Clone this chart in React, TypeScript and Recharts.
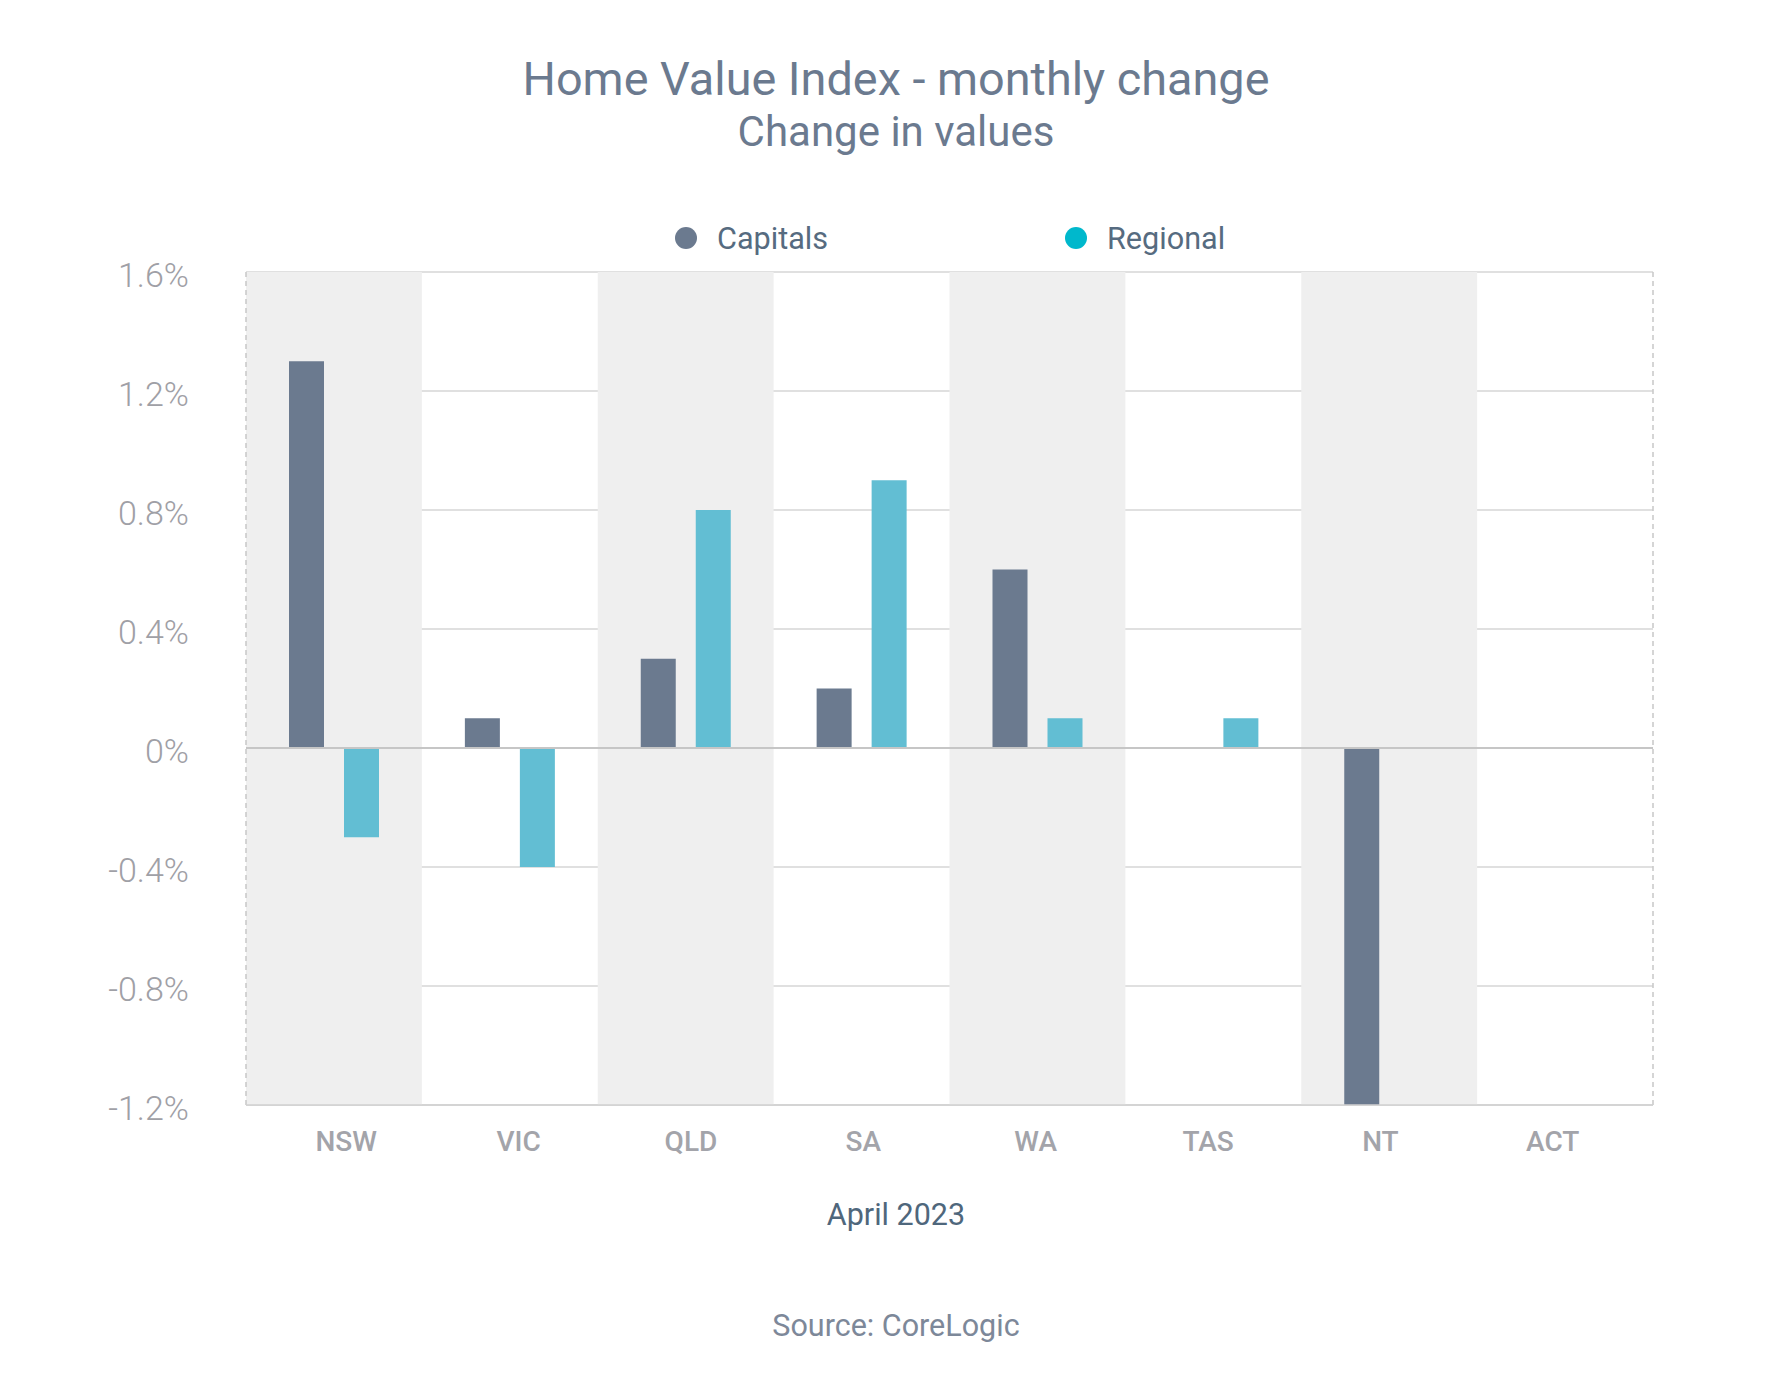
import React from 'react';
import {
  BarChart,
  Bar,
  XAxis,
  YAxis,
  CartesianGrid,
  ReferenceArea,
  ReferenceLine,
} from 'recharts';

const categories = ['NSW', 'VIC', 'QLD', 'SA', 'WA', 'TAS', 'NT', 'ACT'];
const capitals = [1.3, 0.1, 0.3, 0.2, 0.6, 0, -1.2, 0];
const regional: (number | null)[] = [-0.3, -0.4, 0.8, 0.9, 0.1, 0.1, null, null];
const yTicks = [-1.2, -0.8, -0.4, 0, 0.4, 0.8, 1.2, 1.6];
const shadedCategories = categories.filter((_, i) => i % 2 === 0);

const title = 'Home Value Index - monthly change';
const subtitle = 'Change in values';
const xAxisTitle = 'April 2023';
const sourceText = 'Source: CoreLogic';

const CAP_COLOR = '#6b7a8f';
const REG_COLOR = '#62bed3';
const legendItems = [
  { label: 'Capitals', color: '#6b7a8f' },
  { label: 'Regional', color: '#00b8cc' },
];

const data = categories.map((c, i) => ({
  state: c,
  capitals: capitals[i],
  regional: regional[i],
}));

const FONT = 'Roboto, "Noto Sans", sans-serif';
const PLOT_CENTER = 949.5;

const YTick = (props: any) => {
  const { y, payload } = props;
  return (
    <text
      x={189}
      y={y + 15}
      textAnchor="end"
      fontFamily={FONT}
      fontSize={34}
      fontWeight={300}
      fill="#9fa0a6"
    >
      {`${payload.value}%`}
    </text>
  );
};

const XTick = (props: any) => {
  const { x, payload } = props;
  const lx = PLOT_CENTER + (x - PLOT_CENTER) * 0.98;
  return (
    <text
      x={lx}
      y={1151}
      textAnchor="middle"
      fontFamily={FONT}
      fontSize={28}
      fontWeight={500}
      fill="#a3a4aa"
    >
      {payload.value}
    </text>
  );
};

export default function App() {
  return (
    <div
      style={{
        position: 'absolute',
        left: 0,
        top: 0,
        width: 1782,
        height: 1396,
        background: '#ffffff',
        overflow: 'hidden',
      }}
    >
      <BarChart
        width={1782}
        height={1396}
        data={data}
        margin={{ top: 272, right: 129, bottom: 0, left: 0 }}
        barGap={20}
      >
        {shadedCategories.map((c) => (
          <ReferenceArea
            key={c}
            x1={c}
            x2={c}
            fill="#efefef"
            fillOpacity={1}
            stroke="none"
            ifOverflow="visible"
          />
        ))}
        <CartesianGrid vertical={false} stroke="#d6d6d6" strokeWidth={1.3} />
        <ReferenceLine
          x={categories[0]}
          position="start"
          stroke="#c8c8c8"
          strokeWidth={1.5}
          strokeDasharray="5 4"
        />
        <ReferenceLine
          x={categories[categories.length - 1]}
          position="end"
          stroke="#c8c8c8"
          strokeWidth={1.5}
          strokeDasharray="5 4"
        />
        <ReferenceLine y={0} stroke="#c6c6c6" strokeWidth={2} />
        <Bar
          dataKey="capitals"
          fill={CAP_COLOR}
          barSize={35}
          isAnimationActive={false}
        />
        <Bar
          dataKey="regional"
          fill={REG_COLOR}
          barSize={35}
          isAnimationActive={false}
        />
        <XAxis
          dataKey="state"
          height={291}
          tickLine={false}
          axisLine={{ stroke: '#d0d0d0', strokeWidth: 1.5 }}
          tick={<XTick />}
          interval={0}
        />
        <YAxis
          width={246}
          domain={[-1.2, 1.6]}
          ticks={yTicks}
          tickLine={false}
          axisLine={false}
          tick={<YTick />}
          interval={0}
          allowDataOverflow
        />
      </BarChart>
      <svg
        width={1782}
        height={1396}
        style={{ position: 'absolute', left: 0, top: 0, pointerEvents: 'none' }}
      >
        <text
          x={896}
          y={95}
          textAnchor="middle"
          fontFamily={FONT}
          fontSize={46.8}
          fill="#6b7a8f"
        >
          {title}
        </text>
        <text
          x={896}
          y={146}
          textAnchor="middle"
          fontFamily={FONT}
          fontSize={42}
          fill="#6b7a8f"
        >
          {subtitle}
        </text>
        {legendItems.map((item, i) => {
          const cx = i === 0 ? 686 : 1076;
          return (
            <g key={item.label}>
              <circle cx={cx} cy={238} r={11} fill={item.color} />
              <text
                x={cx + 31}
                y={249}
                fontFamily={FONT}
                fontSize={30.6}
                fill="#566b80"
              >
                {item.label}
              </text>
            </g>
          );
        })}
        <text
          x={896}
          y={1225}
          textAnchor="middle"
          fontFamily={FONT}
          fontSize={30.5}
          fill="#4f677c"
        >
          {xAxisTitle}
        </text>
        <text
          x={896}
          y={1336}
          textAnchor="middle"
          fontFamily={FONT}
          fontSize={30.5}
          fill="#7d8899"
        >
          {sourceText}
        </text>
      </svg>
    </div>
  );
}
